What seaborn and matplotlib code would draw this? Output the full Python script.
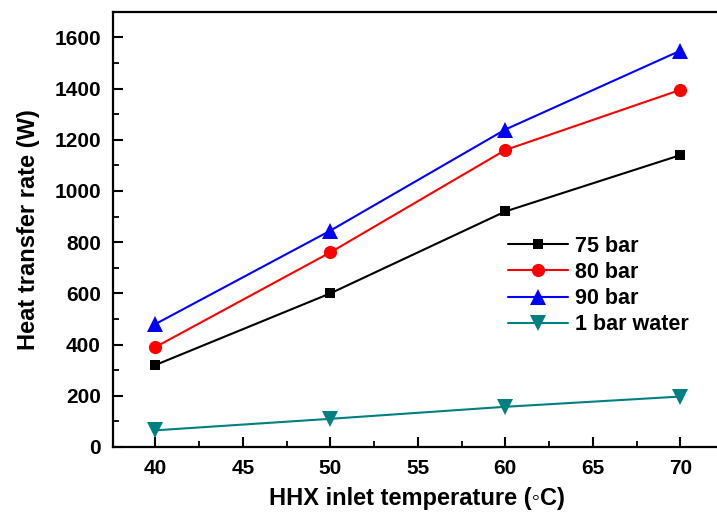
import matplotlib
matplotlib.use("Agg")
import matplotlib.pyplot as plt
import seaborn as sns
import pandas as pd
from matplotlib.ticker import AutoMinorLocator

temps = [40, 50, 60, 70]
series_names = ["75 bar", "80 bar", "90 bar", "1 bar water"]
v75 = [320, 600, 920, 1140]
v80 = [390, 760, 1160, 1395]
v90 = [480, 845, 1240, 1548]
vwater = [65, 110, 157, 197]

colors = ["black", "red", "blue", "#008080"]
markers = ["s", "o", "^", "v"]
msizes = [7.5, 9.5, 11, 11]

df = pd.DataFrame({
    "T": temps * 4,
    "Q": v75 + v80 + v90 + vwater,
    "series": sum([[n] * 4 for n in series_names], []),
})

sns.set_style("ticks")
plt.rcParams['font.family'] = ['Liberation Sans', 'DejaVu Sans']
plt.rcParams['font.weight'] = 'bold'
plt.rcParams['text.color'] = 'black'
plt.rcParams['axes.labelcolor'] = 'black'
plt.rcParams['xtick.color'] = 'black'
plt.rcParams['ytick.color'] = 'black'
plt.rcParams['axes.edgecolor'] = 'black'

fig = plt.figure(figsize=(7.17, 5.12), dpi=100)
ax = fig.add_axes([0.158, 0.127, 0.847, 0.85])

sns.lineplot(data=df, x="T", y="Q", hue="series", style="series",
             palette=dict(zip(series_names, colors)),
             markers=dict(zip(series_names, markers)),
             dashes=False, markersize=9, markeredgewidth=0, linewidth=1.5,
             ax=ax, legend=True)

for line, ms in zip(ax.lines[:4], msizes):
    line.set_markersize(ms)

ax.set_xlim(37.6, 72.3)
ax.set_ylim(0, 1700)
ax.set_xticks([40, 45, 50, 55, 60, 65, 70])
ax.set_yticks([0, 200, 400, 600, 800, 1000, 1200, 1400, 1600])
ax.xaxis.set_minor_locator(AutoMinorLocator(2))
ax.yaxis.set_minor_locator(AutoMinorLocator(2))
ax.tick_params(which='major', direction='in', length=7, width=1.5, labelsize=15, pad=9)
ax.tick_params(which='minor', direction='in', length=4, width=1.3)
for lab in ax.get_xticklabels() + ax.get_yticklabels():
    lab.set_fontweight('bold')
for s in ax.spines.values():
    s.set_linewidth(1.6)
    s.set_visible(True)

ax.set_xlabel("HHX inlet temperature (\u25e6C)", fontsize=17, fontweight='bold', labelpad=6)
ax.set_ylabel("Heat transfer rate (W)", fontsize=17, fontweight='bold', labelpad=10)

leg = ax.legend(frameon=False, loc='upper left', bbox_to_anchor=(0.635, 0.505),
                prop={'weight': 'bold', 'size': 15.5}, handlelength=2.8,
                labelspacing=0.24, handletextpad=0.35, borderaxespad=0)
for h, ms in zip(leg.legend_handles, msizes):
    h.set_markersize(ms)

fig.savefig("out.png", dpi=100)
